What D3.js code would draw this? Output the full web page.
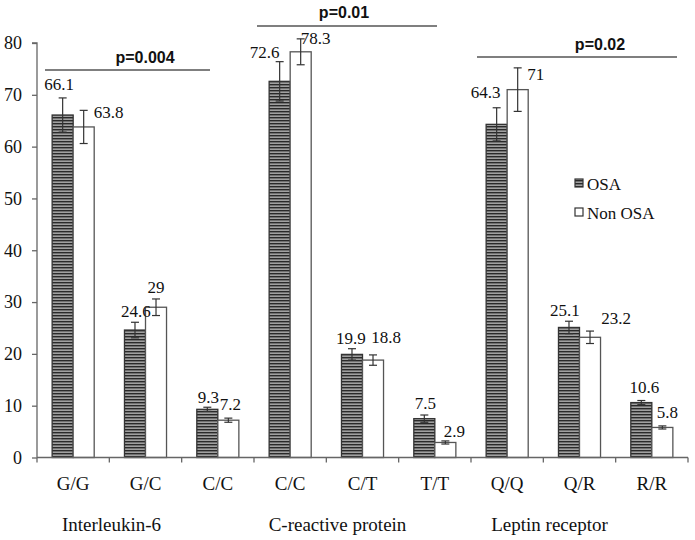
<!DOCTYPE html>
<html><head><meta charset="utf-8">
<script src="https://cdn.jsdelivr.net/npm/d3@7"></script>
<style>body{margin:0;background:#fff}svg{display:block}</style>
</head><body>
<svg id="c" width="695" height="540"></svg>
<script>
// ---- data ----
const categories = ["G/G","G/C","C/C","C/C","C/T","T/T","Q/Q","Q/R","R/R"];
const genes = ["Interleukin-6","C-reactive protein","Leptin receptor"];
const seriesNames = ["OSA","Non OSA"];
const osaValues    = [66.1, 24.6, 9.3, 72.6, 19.9, 7.5, 64.3, 25.1, 10.6];
const nonOsaValues = [63.8, 29.0, 7.2, 78.3, 18.8, 2.9, 71.0, 23.2, 5.8];
const osaErrors    = [3.3, 1.5, 0.4, 3.8, 1.1, 0.7, 3.2, 1.2, 0.4];
const nonOsaErrors = [3.2, 1.6, 0.4, 2.5, 1.0, 0.3, 4.2, 1.2, 0.3];
const pValues = ["p=0.004","p=0.01","p=0.02"];
const yTicks = [0,10,20,30,40,50,60,70,80];

// ---- layout: value-label nudges (dx from bar centre, dy of baseline from error-bar top) ----
const osaLabelDx = [-3.5, 1, 1, -15, -1, 1, -11, -4, 3];
const osaLabelDy = [-8, -5, -4, -4, -5, -6, -10, -5, -8];
const nonLabelDx = [25, 0, 2, 15, 13, 9, 18, 26, 5];
const nonLabelDy = [8, -6, -8, 5, -12, -4, 12, -7, -8];

const svg = d3.select("#c");
const serif = "'Liberation Serif', 'Times New Roman', serif";
const sans = "'Liberation Sans', Arial, sans-serif";
const axisCol = "#666";

const x0 = 37, x1 = 688, yTop = 43, yBot = 457.5;
const y = d3.scaleLinear().domain([0,80]).range([yBot, yTop]);
const x = d3.scaleBand().domain(d3.range(categories.length)).range([x0, x1]).padding(0);
const xs = d3.scaleBand().domain(seriesNames).range([0, x.bandwidth()]).paddingInner(0).paddingOuter(0.72);

// pattern
const defs = svg.append("defs");
const pat = defs.append("pattern").attr("id","hatch").attr("patternUnits","userSpaceOnUse")
  .attr("width",6).attr("height",3);
pat.append("rect").attr("width",6).attr("height",3).attr("fill","#a0a0a0");
pat.append("rect").attr("y",0).attr("width",6).attr("height",1.4).attr("fill","#2a2a2a");

const rows = categories.map((c,i)=>({i, c,
  s:[{name:"OSA",v:osaValues[i],e:osaErrors[i]},{name:"Non OSA",v:nonOsaValues[i],e:nonOsaErrors[i]}]}));

// y axis
const yAxis = d3.axisLeft(y).tickValues(yTicks).tickSize(5).tickPadding(10).tickFormat(d3.format("d"));
const gy = svg.append("g").attr("transform",`translate(${x0},0)`).call(yAxis);
gy.attr("font-family",serif);
gy.select(".domain").attr("stroke",axisCol).attr("stroke-width",1.3).attr("d",`M-5,${yTop}H0V${yBot}`);
gy.selectAll(".tick line").attr("stroke",axisCol).attr("stroke-width",1.3);
gy.selectAll(".tick text").attr("font-family",serif).attr("font-size",18).attr("fill","#111");

// bars
const g = svg.append("g");
rows.forEach(r=>{
  r.s.forEach(s=>{
    const bx = x(r.i)+xs(s.name), bw = xs.bandwidth();
    g.append("rect").attr("x",bx).attr("y",y(s.v)).attr("width",bw).attr("height",y(0)-y(s.v))
      .attr("fill", s.name==="OSA" ? "url(#hatch)" : "#fff")
      .attr("stroke", s.name==="OSA" ? "#333" : "#555").attr("stroke-width",1.3);
  });
});

// x axis
const xAxisLine = svg.append("g");
xAxisLine.append("line").attr("x1",x0).attr("x2",x1).attr("y1",yBot).attr("y2",yBot).attr("stroke",axisCol).attr("stroke-width",1.3);
d3.range(categories.length+1).forEach(k=>{
  const xx = k<categories.length ? x(k) : x1;
  xAxisLine.append("line").attr("x1",xx).attr("x2",xx).attr("y1",yBot).attr("y2",yBot+5).attr("stroke",axisCol).attr("stroke-width",1.3);
});
svg.append("g").selectAll("text").data(categories).join("text")
  .attr("x",(d,i)=>x(i)+x.bandwidth()/2).attr("y",yBot+32).attr("text-anchor","middle")
  .attr("font-family",serif).attr("font-size",19).attr("fill","#111").text(d=>d);

// gene labels
const geneDx = [-34, -25, -30];
svg.append("g").selectAll("text").data(genes).join("text")
  .attr("x",(d,i)=>x(i*3+1)+x.bandwidth()/2+geneDx[i]).attr("y",531).attr("text-anchor","middle")
  .attr("font-family",serif).attr("font-size",19).attr("fill","#111").text(d=>d);

// error bars + labels
rows.forEach(r=>{
  r.s.forEach(s=>{
    const cx = x(r.i)+xs(s.name)+xs.bandwidth()/2;
    const top = y(s.v+s.e), bot = y(s.v-s.e);
    g.append("line").attr("x1",cx).attr("x2",cx).attr("y1",top).attr("y2",bot).attr("stroke","#333").attr("stroke-width",1.2);
    [top,bot].forEach(yy=>g.append("line").attr("x1",cx-4).attr("x2",cx+4).attr("y1",yy).attr("y2",yy).attr("stroke","#333").attr("stroke-width",1.2));
    const isOsa = s.name==="OSA";
    g.append("text")
      .attr("x", cx + (isOsa ? osaLabelDx[r.i] : nonLabelDx[r.i]))
      .attr("y", top + (isOsa ? osaLabelDy[r.i] : nonLabelDy[r.i]))
      .attr("text-anchor", "middle")
      .attr("font-family",serif).attr("font-size",17).attr("fill","#111")
      .text(d3.format("")(s.v));
  });
});

// significance lines
const sig = [
  {lx1:45, lx2:210, ly:70, tx:145, ty:63},
  {lx1:257, lx2:437, ly:26, tx:344, ty:18},
  {lx1:477, lx2:677, ly:57, tx:600, ty:50}
];
sig.forEach((s,i)=>{
  svg.append("line").attr("x1",s.lx1).attr("x2",s.lx2).attr("y1",s.ly).attr("y2",s.ly).attr("stroke","#555").attr("stroke-width",1.5);
  svg.append("text").attr("x",s.tx).attr("y",s.ty).attr("text-anchor","middle")
    .attr("font-family",sans).attr("font-weight","bold").attr("font-size",16).attr("fill","#111").text(pValues[i]);
});

// legend
const leg = svg.append("g").attr("transform","translate(575,0)");
seriesNames.forEach((n,i)=>{
  const yy = 190 + i*29;
  leg.append("rect").attr("x",0).attr("y",yy-11).attr("width",8).attr("height",8)
    .attr("fill", i===0 ? "url(#hatch)" : "#fff").attr("stroke","#333").attr("stroke-width",1.2);
  leg.append("text").attr("x",12).attr("y",yy).attr("font-family",serif).attr("font-size",17).attr("fill","#111").text(n);
});
</script>
</body></html>
